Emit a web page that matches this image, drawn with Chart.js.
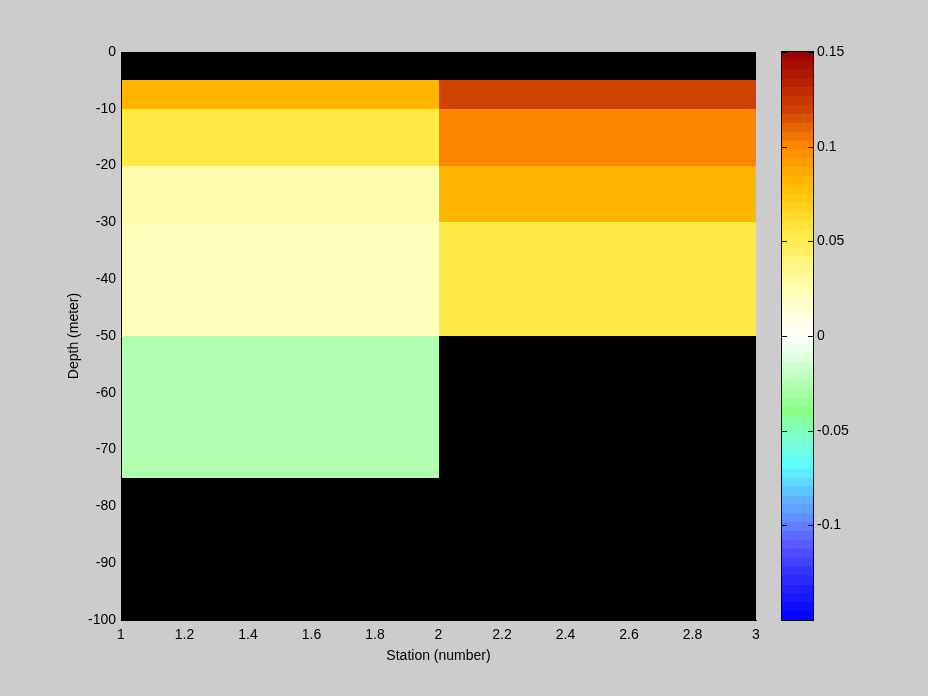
<!DOCTYPE html>
<html>
<head>
<meta charset="utf-8">
<script src="https://cdn.jsdelivr.net/npm/chart.js@4.4.1/dist/chart.umd.min.js"></script>
<style>
  html, body { margin: 0; padding: 0; background: #cccccc; }
  #wrap { position: relative; width: 928px; height: 696px; }
  canvas { position: absolute; left: 0; top: 0; }
</style>
</head>
<body>
<div id="wrap">
  <canvas id="canvas" width="928" height="696"></canvas>
  <canvas id="colorbar" width="928" height="696"></canvas>
</div>
<script>
// grid edges: station (number) and depth (meter)
const stations = [1, 2, 3];
const depths = [0, -5, -10, -20, -30, -50, -75, -100];

// one value per depth layer, null = no data (stays black)
const station1 = [null, 0.08, 0.055, 0.025, 0.022, -0.026, null];
const station2 = [null, 0.12, 0.1, 0.082, 0.055, null, null];

const depthTicks = [0, -10, -20, -30, -40, -50, -60, -70, -80, -90, -100];
const colorTicks = [-0.1, -0.05, 0, 0.05, 0.1, 0.15];
const cMin = -0.15;
const cMax = 0.15;

// colormap key colours, 64 steps in between
const cmapStops = [
  [-0.15, "#0000ff"],
  [-0.125, "#3333ff"],
  [-0.108, "#6060ff"],
  [-0.1, "#6080ff"],
  [-0.085, "#60b8ff"],
  [-0.068, "#60ffff"],
  [-0.052, "#80ffc8"],
  [-0.04, "#88ff88"],
  [-0.025, "#b4ffb4"],
  [0, "#ffffff"],
  [0.025, "#ffffb0"],
  [0.055, "#ffe840"],
  [0.08, "#ffbb00"],
  [0.1, "#ff8800"],
  [0.12, "#cc4000"],
  [0.15, "#990000"],
];
const nBands = 64;
const bandSize = (cMax - cMin) / nBands;

function hexToRgb(h) {
  return [1, 3, 5].map(i => parseInt(h.slice(i, i + 2), 16));
}

function colorAt(v) {
  for (let i = 1; i < cmapStops.length; i++) {
    const [v0, c0] = cmapStops[i - 1];
    const [v1, c1] = cmapStops[i];
    if (v <= v1) {
      const t = (v - v0) / (v1 - v0);
      const a = hexToRgb(c0), b = hexToRgb(c1);
      return "rgb(" + a.map((c, k) => Math.round(c + (b[k] - c) * t)).join(",") + ")";
    }
  }
  return cmapStops[cmapStops.length - 1][1];
}

function bandColor(v) {
  const i = Math.min(nBands - 1, Math.max(0, Math.floor((v - cMin) / bandSize)));
  return colorAt(cMin + (i + 0.5) * bandSize);
}

const fmt = v => String(Math.round(v * 100) / 100);

Chart.defaults.font.family = "'Liberation Sans', Arial, sans-serif";
Chart.defaults.font.size = 14;
Chart.defaults.color = "#000";

// pcolor cells, drawn through the chart's scales
const cellPlugin = {
  id: "cells",
  beforeDatasetsDraw(chart) {
    const { ctx, chartArea: a, scales: { x, y } } = chart;
    ctx.save();
    ctx.fillStyle = "#000";
    ctx.fillRect(a.left, a.top, a.right - a.left, a.bottom - a.top);
    [station1, station2].forEach((col, i) => {
      const x0 = Math.round(x.getPixelForValue(stations[i]));
      const x1 = Math.round(x.getPixelForValue(stations[i + 1]));
      col.forEach((v, j) => {
        if (v === null) return;
        const y0 = Math.round(y.getPixelForValue(depths[j]));
        const y1 = Math.round(y.getPixelForValue(depths[j + 1]));
        ctx.fillStyle = bandColor(v);
        ctx.fillRect(x0, y0, x1 - x0, y1 - y0);
      });
    });
    ctx.restore();
  },
};

new Chart(document.getElementById("canvas"), {
  type: "scatter",
  data: { datasets: [] },
  options: {
    responsive: false,
    animation: false,
    layout: { padding: { top: 52, right: 172, left: 0, bottom: 0 } },
    plugins: { legend: { display: false }, tooltip: { enabled: false } },
    scales: {
      x: {
        type: "linear",
        min: 1,
        max: 3,
        ticks: { stepSize: 0.2, padding: 7, callback: fmt, maxRotation: 0 },
        grid: { display: false, drawTicks: false },
        border: { display: true, color: "#000", z: 1 },
        title: { display: true, text: "Station (number)", padding: { top: 0, bottom: 31 } },
        afterFit: s => { s.height = 76; },
      },
      y: {
        type: "linear",
        min: -100,
        max: 0,
        afterBuildTicks: s => { s.ticks = depthTicks.slice().reverse().map(v => ({ value: v })); },
        ticks: { padding: 5, callback: fmt },
        grid: { display: false, drawTicks: false },
        border: { display: true, color: "#000", z: 1 },
        title: { display: true, text: "Depth (meter)", padding: { top: 66, bottom: 0 } },
        afterFit: s => { s.width = 121; },
      },
    },
  },
  plugins: [cellPlugin],
});

// colorbar box and inward ticks
const colorbarFrame = {
  id: "frame",
  afterDatasetsDraw(chart) {
    const { ctx, chartArea: a, scales: { y } } = chart;
    ctx.save();
    ctx.strokeStyle = "#000";
    ctx.lineWidth = 1;
    ctx.strokeRect(a.left - 0.5, a.top - 0.5, a.right - a.left + 1, a.bottom - a.top + 1);
    ctx.beginPath();
    colorTicks.forEach(v => {
      const py = Math.round(y.getPixelForValue(v)) + 0.5;
      ctx.moveTo(a.left, py);
      ctx.lineTo(a.left + 5, py);
      ctx.moveTo(a.right, py);
      ctx.lineTo(a.right - 5, py);
    });
    ctx.stroke();
    ctx.restore();
  },
};

const bands = [];
for (let i = 0; i < nBands; i++) {
  const lo = cMin + i * bandSize;
  bands.push({ data: [[lo, lo + bandSize]], backgroundColor: bandColor(lo + bandSize / 2) });
}

new Chart(document.getElementById("colorbar"), {
  type: "bar",
  data: { labels: [""], datasets: bands },
  options: {
    responsive: false,
    animation: false,
    layout: { padding: { left: 782, top: 52, bottom: 76, right: 0 } },
    datasets: { bar: { grouped: false, barPercentage: 1, categoryPercentage: 1, borderWidth: 0 } },
    plugins: { legend: { display: false }, tooltip: { enabled: false } },
    scales: {
      x: { display: false },
      y: {
        position: "right",
        min: cMin,
        max: cMax,
        afterBuildTicks: s => { s.ticks = colorTicks.map(v => ({ value: v })); },
        ticks: { padding: 4, callback: fmt },
        grid: { display: false, drawTicks: false },
        border: { display: false },
        afterFit: s => { s.width = 928 - 813; },
      },
    },
  },
  plugins: [colorbarFrame],
});
</script>
</body>
</html>
